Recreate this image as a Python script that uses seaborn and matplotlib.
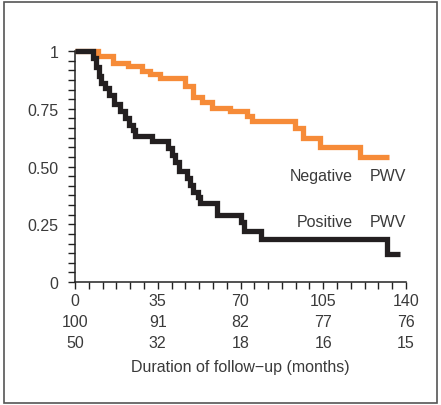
import numpy as np
import pandas as pd
import matplotlib
matplotlib.use("Agg")
import matplotlib.pyplot as plt
import matplotlib.patches as mpatches
import matplotlib.transforms as mtransforms
from matplotlib.ticker import MultipleLocator
import seaborn as sns

# survival curves (month, survival), step-post
neg_months = [0, 9.7, 16, 22.4, 28.3, 31.7, 36, 46.5, 50, 53.6, 57.8, 65.6, 72.6, 74.7,
              93, 96.6, 103.6, 120.6, 133]
neg_surv = [1.0, 0.98, 0.95, 0.935, 0.915, 0.90, 0.885, 0.85, 0.80, 0.78, 0.755, 0.74,
            0.72, 0.695, 0.665, 0.625, 0.585, 0.54, 0.54]

pos_months = [0, 7.6, 9.0, 10.0, 11.0, 12.5, 14.5, 16.5, 19, 21, 23, 24.5, 25.5, 32.6,
              39.5, 41, 42.5, 44, 47.5, 48.5, 50, 52, 53, 60, 70, 71.5, 78.5, 132, 137.5]
pos_surv = [1.0, 0.97, 0.93, 0.89, 0.86, 0.84, 0.81, 0.77, 0.74, 0.71, 0.68, 0.66, 0.63,
            0.61, 0.58, 0.55, 0.52, 0.48, 0.45, 0.42, 0.39, 0.37, 0.34, 0.29, 0.26, 0.22,
            0.185, 0.12, 0.12]

risk_times = [0, 35, 70, 105, 140]
risk_neg = [100, 91, 82, 77, 76]
risk_pos = [50, 32, 18, 16, 15]

df = pd.concat([
    pd.DataFrame({"month": neg_months, "surv": neg_surv, "group": "Negative PWV"}),
    pd.DataFrame({"month": pos_months, "surv": pos_surv, "group": "Positive PWV"}),
])

sns.set_style("white")
plt.rcParams['font.family'] = ['Liberation Sans', 'DejaVu Sans']
txt = "#3a3a3a"
fs = 11.5

fig = plt.figure(figsize=(4.41, 4.06), dpi=100)
ax = fig.add_axes([75/441, 123/406, 331/441, 231/406])

sns.lineplot(data=df, x="month", y="surv", hue="group", estimator=None,
             palette={"Negative PWV": "#f68b38", "Positive PWV": "#231f20"},
             drawstyle="steps-post", linewidth=3.8, solid_capstyle="butt",
             solid_joinstyle="miter", legend=False, clip_on=False, ax=ax)

ax.set_xlim(0, 140)
ax.set_ylim(0, 1)
ax.set_xticks(risk_times)
ax.set_xticklabels([str(t) for t in risk_times])
ax.set_yticks([0, 0.25, 0.5, 0.75, 1])
ax.set_yticklabels(["0", "0.25", "0.50", "0.75", "1"])
ax.xaxis.set_minor_locator(MultipleLocator(140/24))
ax.yaxis.set_minor_locator(MultipleLocator(1/24))
ax.tick_params(which="both", direction="out", length=5, width=1, color="#222222",
               labelsize=fs, labelcolor=txt)
ax.tick_params(axis="y", which="both", left=True, pad=7)
ax.tick_params(axis="x", which="both", bottom=True, pad=3)
ax.set_xlabel("")
ax.set_ylabel("")
for side in ["top", "right"]:
    ax.spines[side].set_visible(False)
for side in ["left", "bottom"]:
    ax.spines[side].set_color("#222222")
    ax.spines[side].set_linewidth(1.1)

# number at risk rows under the axis
trans = mtransforms.blended_transform_factory(ax.transData, fig.transFigure)
for t, n1, n2 in zip(risk_times, risk_neg, risk_pos):
    ax.text(t, 1 - 323/406, str(n1), transform=trans, ha="center", va="center",
            fontsize=fs, color=txt)
    ax.text(t, 1 - 344/406, str(n2), transform=trans, ha="center", va="center",
            fontsize=fs, color=txt)
ax.text(70, 1 - 368/406, "Duration of follow\u2212up (months)", transform=trans,
        ha="center", va="center", fontsize=fs, color=txt)

# curve labels
ax.text(117.6, 0.463, "Negative", ha="right", va="center", fontsize=fs, color=txt)
ax.text(140, 0.463, "PWV", ha="right", va="center", fontsize=fs, color=txt)
ax.text(117.6, 0.26, "Positive", ha="right", va="center", fontsize=fs, color=txt)
ax.text(140, 0.26, "PWV", ha="right", va="center", fontsize=fs, color=txt)

# frame around the whole figure
fig.add_artist(mpatches.Rectangle((4/441, 2/406), 433/441, 401/406,
                                  transform=fig.transFigure, fill=False,
                                  edgecolor="#555555", linewidth=1.2))

fig.savefig("out.png", dpi=100)
